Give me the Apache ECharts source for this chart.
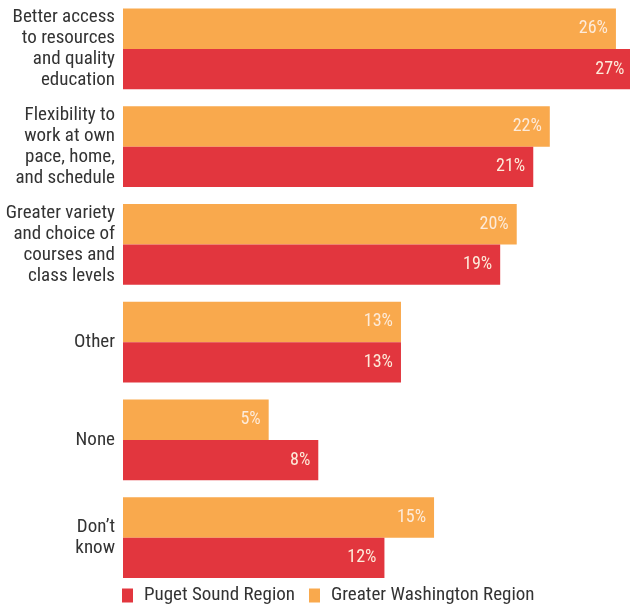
<!DOCTYPE html>
<html>
<head>
<meta charset="utf-8">
<script src="https://cdn.jsdelivr.net/npm/echarts@6/dist/echarts.min.js"></script>
<style>
html,body{margin:0;padding:0;background:#fff;}
#chart{width:630px;height:607px;}
</style>
</head>
<body>
<div id="chart"></div>
<script>
const categories = [
  'Better access\nto resources\nand quality\neducation',
  'Flexibility to\nwork at own\npace, home,\nand schedule',
  'Greater variety\nand choice of\ncourses and\nclass levels',
  'Other',
  'None',
  'Don\u2019t\nknow'
];
const pugetSound = [27, 21, 19, 13, 8, 12];
const greaterWashington = [26, 22, 20, 13, 5, 15];
const seriesNames = ['Puget Sound Region', 'Greater Washington Region'];

const AXIS_START = -3.81;
const AXIS_END = 26.85;
const CATEGORY_GAP = 0.1735;
const FONT = "'Liberation Sans Narrow', 'Roboto Condensed', 'Arial Narrow', sans-serif";
const RED = '#E2363E';
const ORANGE = '#F9A94D';

// slot 0 = upper bar in each category, slot 1 = lower bar
function makeRenderer(slot) {
  return function (params, api) {
    const idx = api.value(0);
    const v = api.value(1);
    const band = api.size([0, 1])[1];
    const barH = band * (1 - CATEGORY_GAP) / 2;
    const start = api.coord([AXIS_START, idx]);
    const end = api.coord([v, idx]);
    const y = start[1] - barH + slot * barH;
    return {
      type: 'rect',
      shape: {x: start[0], y: y, width: end[0] - start[0], height: barH},
      style: api.style(),
      textContent: {
        style: {
          text: v + '%',
          fill: '#FDEBDA',
          fontFamily: FONT,
          fontSize: 18
        }
      },
      textConfig: {position: 'insideRight', distance: 8}
    };
  };
}

const chart = echarts.init(document.getElementById('chart'), null, {renderer: 'canvas'});
chart.setOption({
  animation: false,
  grid: {left: 123, right: 0, top: -1.5, bottom: 20.5, containLabel: false},
  legend: {
    data: seriesNames,
    left: 122,
    top: 586,
    padding: 0,
    icon: 'rect',
    itemWidth: 11,
    itemHeight: 14,
    itemGap: 14,
    textStyle: {fontFamily: FONT, fontSize: 19, color: '#333', padding: [0, 0, 0, 6]}
  },
  xAxis: {
    type: 'value',
    min: AXIS_START,
    max: AXIS_END,
    show: false
  },
  yAxis: {
    type: 'category',
    data: categories,
    inverse: true,
    axisLine: {show: false},
    axisTick: {show: false},
    axisLabel: {
      margin: 8,
      fontFamily: FONT,
      fontSize: 19,
      lineHeight: 21,
      color: '#333',
      align: 'right'
    }
  },
  series: [
    {
      name: seriesNames[1], type: 'custom', renderItem: makeRenderer(0),
      encode: {y: 0, x: 1},
      itemStyle: {color: ORANGE},
      data: greaterWashington.map((v, i) => [i, v])
    },
    {
      name: seriesNames[0], type: 'custom', renderItem: makeRenderer(1),
      encode: {y: 0, x: 1},
      itemStyle: {color: RED},
      data: pugetSound.map((v, i) => [i, v])
    }
  ]
});
</script>
</body>
</html>
